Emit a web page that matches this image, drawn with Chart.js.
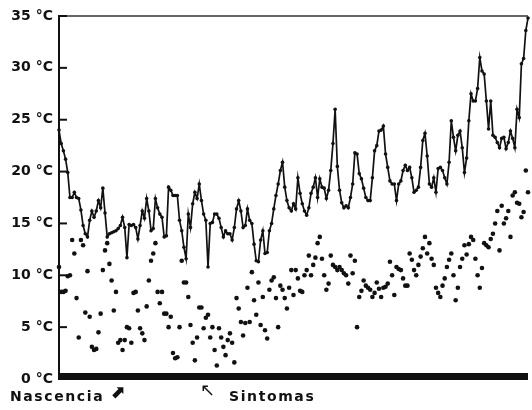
<!DOCTYPE html>
<html><head><meta charset="utf-8">
<script src="https://cdn.jsdelivr.net/npm/chart.js@4"></script>
<style>
html,body{margin:0;padding:0;background:#fff;}
#wrap{position:relative;width:532px;height:410px;overflow:hidden;}
canvas{position:absolute;left:0;top:0;}
.note{position:absolute;font-family:"DejaVu Sans";font-weight:bold;font-size:14px;letter-spacing:1.6px;color:#111;white-space:nowrap;line-height:14px;}
.arr{position:absolute;font-family:"DejaVu Sans";font-weight:bold;color:#111;white-space:nowrap;line-height:18px;font-size:18px;}
</style></head><body>
<div id="wrap">
<canvas id="c" width="532" height="410"></canvas>
<div class="note" style="left:10px;top:389px;">Nascencia</div>
<div class="arr" style="left:110px;top:383px;">⬈</div>
<div class="arr" style="left:200px;top:381px;font-weight:normal;">↖</div>
<div class="note" style="left:229px;top:389px;">Sintomas</div>
</div>
<script>
// Daily maximum temperature (°C), line with markers
const maxT = [
 24.0,22.7,22.0,21.2,19.9,17.5,17.5,18.0,17.5,17.4,
 16.3,14.8,14.0,13.7,15.3,16.2,15.6,16.2,17.2,16.5,
 18.4,16.0,13.7,14.0,14.1,14.2,14.3,14.5,14.8,15.6,
 14.6,11.7,14.9,
 14.8,14.9,14.6,13.5,14.8,16.2,15.5,17.4,16.2,14.3,
 14.5,17.4,16.5,15.9,15.6,13.7,13.8,18.5,18.2,17.7,
 17.7,17.7,15.3,14.3,12.7,11.6,15.9,14.6,16.9,18.0,
 17.4,18.8,17.2,15.9,15.3,10.8,
 15.0,15.1,15.9,15.9,15.5,14.6,13.7,14.3,14.0,14.0,
 13.4,14.6,16.4,17.2,16.2,14.6,14.8,16.4,15.3,15.0,
 13.0,11.4,11.3,13.4,14.3,12.1,12.2,14.3,15.0,16.4,
 17.7,18.8,20.1,20.9,18.5,17.2,16.5,16.2,16.9,
 16.4,19.4,17.9,16.9,16.2,15.8,16.5,17.9,18.5,19.4,
 17.5,19.3,18.5,18.4,17.4,18.2,20.1,22.7,26.0,20.5,
 18.2,17.0,16.5,16.7,16.5,17.5,18.8,21.8,21.7,19.8,
 19.3,18.4,17.5,17.2,17.2,19.4,22.0,
 22.5,23.9,24.0,24.4,21.7,20.4,19.1,18.8,18.8,17.2,
 18.8,19.1,20.1,20.6,20.1,20.4,19.4,18.0,18.2,18.5,
 20.4,23.0,23.7,21.5,18.8,18.5,19.4,18.0,20.3,20.4,
 20.1,19.4,18.8,20.9,
 24.9,23.3,22.0,23.5,23.9,22.3,19.9,21.3,24.9,27.5,
 26.8,26.8,28.0,31.0,29.7,29.4,26.8,24.1,26.8,23.5,
 23.3,22.8,22.3,23.2,23.3,22.2,22.8,23.9,23.2,22.3,
 26.0,25.2,30.4,30.9,33.6,34.8
];
// Daily minimum temperature (°C), dots only
const minT = [
 10.8,8.4,8.4,8.5,9.9,10.0,13.4,12.1,7.8,4.0,
 13.4,12.9,6.4,10.4,6.0,3.1,2.8,2.9,4.5,6.3,
 10.5,12.4,13.1,11.1,9.5,6.6,8.4,3.5,3.75,2.8,
 3.75,5.0,4.9,3.5,8.3,8.4,6.6,4.9,4.4,3.75,
 7.0,9.5,11.4,12.1,13.1,8.4,7.3,8.4,6.3,6.3,
 5.0,6.0,2.5,2.0,2.1,5.0,11.4,9.3,9.3,7.9,
 5.2,3.5,1.8,4.0,6.9,6.9,4.9,5.9,6.2,4.0,
 5.0,2.8,1.3,4.9,4.0,3.1,2.3,3.75,4.4,3.5,
 1.6,7.8,6.8,5.5,4.2,5.4,8.8,5.5,10.3,7.6,
 6.2,9.3,5.2,7.9,4.7,3.9,8.6,9.5,9.8,7.8,
 5.0,9.0,8.6,7.8,6.8,8.8,10.5,8.1,10.5,9.7,
 8.5,8.4,10.0,10.5,11.9,10.0,11.0,11.7,13.1,13.7,
 11.6,10.0,8.6,9.2,11.9,11.0,10.8,10.5,10.8,10.5,
 10.2,10.0,9.2,11.9,10.2,11.4,5.0,7.9,8.5,9.5,
 9.0,8.8,8.6,7.9,8.3,9.3,8.7,7.9,8.8,8.9,
 9.2,11.3,10.0,8.1,10.8,10.6,10.5,9.7,9.0,9.0,
 12.1,11.5,10.5,10.0,11.0,11.8,12.6,13.7,12.1,13.1,
 11.6,11.0,8.8,8.3,7.9,9.0,9.7,10.8,11.5,12.1,
 10.0,7.6,8.8,10.8,11.6,12.9,12.0,13.0,13.7,13.4,
 11.6,10.0,8.8,10.7,13.1,12.9,12.7,13.5,14.0,15.0,
 16.2,12.4,16.7,15.0,15.5,16.2,13.7,17.7,18.0,17.0,
 16.9,15.6,16.1,20.1,18.0
];
const days = maxT.map((_, i) => i + 1);
const yTicks = [0, 5, 10, 15, 20, 25, 30, 35];
const unit = " °C";

const decor = {
  id: 'decor',
  beforeDatasetsDraw(chart) {
    const {ctx, chartArea: a, scales: {y}} = chart;
    const y0 = y.getPixelForValue(0);
    ctx.save();
    ctx.fillStyle = '#111';
    ctx.fillRect(a.left, y0 - 6, a.right - a.left, 7);
    ctx.restore();
  },
  afterDraw(chart) {
    const {ctx, chartArea: a, scales: {y}} = chart;
    ctx.save();
    ctx.strokeStyle = '#333';
    ctx.lineWidth = 1.5;
    ctx.beginPath();
    ctx.moveTo(a.left, a.top);
    ctx.lineTo(a.right, a.top);
    ctx.stroke();
    ctx.strokeStyle = '#111';
    ctx.lineWidth = 2;
    y.ticks.forEach(t => {
      const py = y.getPixelForValue(t.value);
      ctx.beginPath();
      ctx.moveTo(a.left, py);
      ctx.lineTo(a.left + 8, py);
      ctx.stroke();
    });
    ctx.restore();
  }
};

new Chart(document.getElementById('c'), {
  type: 'line',
  data: {
    labels: days,
    datasets: [
      {
        data: maxT,
        borderColor: '#111',
        borderWidth: 1.7,
        pointRadius: 1.8,
        pointBackgroundColor: '#111',
        pointBorderWidth: 0,
        tension: 0
      },
      {
        data: minT,
        showLine: false,
        pointRadius: 2.3,
        pointBackgroundColor: '#111',
        pointBorderWidth: 0
      }
    ]
  },
  options: {
    responsive: false,
    animation: false,
    devicePixelRatio: 1,
    layout: {padding: {top: 16, right: 0, bottom: 31, left: 0}},
    plugins: {legend: {display: false}, tooltip: {enabled: false}},
    scales: {
      x: {type: 'category', display: false, offset: false},
      y: {
        min: 0, max: 35,
        afterBuildTicks: s => { s.ticks = yTicks.map(v => ({value: v})); },
        afterFit: s => { s.width = 59; },
        grid: {display: false, drawTicks: false},
        border: {display: true, color: '#111', width: 2},
        ticks: {
          padding: 6,
          color: '#111',
          font: {family: 'DejaVu Sans', weight: 'bold', size: 14},
          callback: v => v + unit
        }
      }
    }
  },
  plugins: [decor]
});
</script>
</body></html>
